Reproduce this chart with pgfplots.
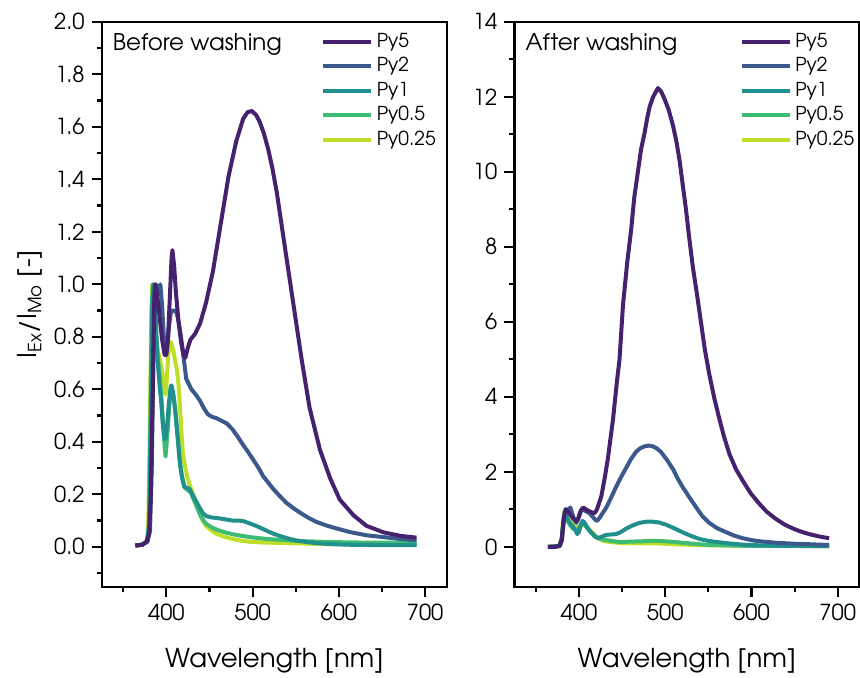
\documentclass[border=0pt]{standalone}
\usepackage{fontspec}
\setmainfont{TeX Gyre Adventor}
\usepackage{pgfplots}
\pgfplotsset{compat=1.18}
\definecolor{cA}{HTML}{46226E}
\definecolor{cB}{HTML}{3B5A8B}
\definecolor{cC}{HTML}{21908D}
\definecolor{cD}{HTML}{3FBC73}
\definecolor{cE}{HTML}{BDDF26}
\pgfplotsset{
  myaxis/.style={
    width=172.5pt, height=282.65pt, scale only axis,
    anchor=south west,
    xmin=325, xmax=725,
    xtick={400,500,600,700}, minor xtick={350,450,550,650},
    tick align=outside, xtick pos=left, ytick pos=left,
    major tick length=5pt, minor tick length=2.5pt,
    every tick/.style={black, line width=1.1pt},
    axis line style={line width=1.2pt},
    tick label style={font=\fontsize{11}{13}\selectfont},
    label style={font=\fontsize{13}{15}\selectfont},
    xlabel={Wavelength [nm]},
    xlabel style={at={(axis description cs:0.5,-0.143)}, anchor=base},
    /pgf/number format/assume math mode=true,
    legend style={draw=none, fill=none, font=\fontsize{9.6}{11}\selectfont,
      anchor=north west, inner sep=0pt, row sep=0pt,
      nodes={inner sep=1.8pt}},
    legend cell align=left,
    reverse legend,
    legend image code/.code={\draw[##1] (0pt,0pt) -- (24pt,0pt);},
    every axis plot/.append style={line width=2pt, line join=round},
  }
}
\begin{document}
\begin{tikzpicture}
\useasboundingbox (0,0) rectangle (430pt,338.5pt);
% ---------------- Left panel ----------------
\begin{axis}[myaxis, at={(50.85pt,45pt)},
  ymin=-0.153, ymax=2.0,
  ytick={0,0.2,0.4,0.6,0.8,1.0,1.2,1.4,1.6,1.8,2.0},
  minor ytick={-0.1,0.1,0.3,0.5,0.7,0.9,1.1,1.3,1.5,1.7,1.9},
  yticklabel style={/pgf/number format/.cd, fixed, fixed zerofill, precision=1},
  ylabel={I\textsubscript{Ex}/I\textsubscript{Mo} [-]},
  ylabel style={at={(axis description cs:-0.209,0.5)}, anchor=center},
  legend style={at={(axis description cs:0.635,0.987)}},
]
\addplot[cE] coordinates {
(364,0.005)(372,0.008)(377,0.02)(379,0.08)(381,0.5)(382.5,0.9)(383.7,1.0)(385,0.93)(387.6,0.81)(390,0.75)(392,0.72)(394,0.69)(396,0.65)(398,0.6)(399,0.58)(400.5,0.64)(402,0.72)(403.5,0.77)(405,0.78)(407,0.76)(408.5,0.74)(410,0.71)(412,0.68)(414,0.62)(415.5,0.55)(417,0.46)(419,0.36)(421.5,0.31)(424,0.27)(427,0.235)(431,0.2)(435,0.165)(439,0.13)(442,0.1)(446,0.08)(452,0.063)(458,0.05)(467,0.038)(477,0.03)(487,0.023)(497,0.019)(516,0.016)(536,0.015)(565,0.012)(594,0.01)(640,0.01)(690,0.01)};
\addlegendentry{Py0.25}
\addplot[cD] coordinates {
(364,0.005)(372,0.008)(378,0.02)(380,0.1)(382,0.6)(383.5,0.95)(384.5,1.0)(386,0.9)(388,0.8)(390,0.72)(391.5,0.68)(394,0.58)(396,0.476)(398,0.38)(399,0.344)(401,0.42)(403,0.52)(405,0.6)(406,0.61)(408,0.58)(410,0.53)(413,0.43)(415.5,0.33)(418,0.27)(421,0.227)(425,0.215)(428,0.21)(431,0.185)(435,0.154)(440,0.115)(446,0.088)(452,0.075)(458,0.066)(467,0.056)(477,0.048)(487,0.042)(497,0.037)(516,0.03)(535,0.026)(555,0.022)(594,0.018)(632,0.016)(690,0.016)};
\addlegendentry{Py0.5}
\addplot[cC] coordinates {
(364,0.005)(372,0.008)(378,0.02)(380,0.08)(382,0.5)(383.5,0.9)(385,1.0)(386.5,0.97)(388,0.84)(390,0.70)(392,0.62)(394,0.55)(396,0.46)(398,0.41)(399,0.41)(401,0.47)(403,0.55)(405,0.61)(406,0.615)(408,0.58)(410,0.53)(412,0.45)(413.5,0.40)(415,0.34)(417,0.285)(419,0.25)(421,0.227)(424,0.225)(427,0.22)(430,0.2)(433,0.183)(436,0.164)(439,0.146)(442,0.13)(446,0.117)(452,0.112)(458,0.11)(468,0.105)(477,0.10)(484,0.1)(489,0.098)(496,0.09)(504,0.08)(514,0.065)(524,0.05)(533,0.04)(543,0.03)(553,0.023)(563,0.018)(578,0.013)(593,0.01)(612,0.008)(632,0.007)(660,0.007)(690,0.007)};
\addlegendentry{Py1}
\addplot[cB] coordinates {
(364,0.005)(372,0.008)(378,0.02)(381,0.06)(383,0.3)(385,0.75)(387,0.97)(388,1.0)(390,0.96)(392,0.98)(393,1.0)(395,0.92)(397,0.8)(399,0.74)(401,0.76)(403,0.84)(405,0.89)(407,0.9)(410,0.9)(412,0.89)(414,0.86)(417,0.8)(420,0.72)(423,0.64)(426,0.62)(429,0.6)(434,0.58)(439,0.556)(444,0.525)(448,0.505)(453,0.495)(458,0.49)(464,0.48)(470,0.47)(477,0.446)(483,0.418)(489,0.388)(495,0.36)(501,0.33)(507,0.30)(512,0.27)(518,0.245)(524,0.22)(531,0.195)(539,0.168)(547,0.148)(555,0.13)(565,0.11)(574,0.095)(584,0.083)(594,0.073)(613,0.056)(632,0.044)(652,0.037)(671,0.03)(690,0.025)};
\addlegendentry{Py2}
\addplot[cA] coordinates {
(364,0.005)(372,0.008)(377,0.02)(380,0.05)(382,0.2)(384,0.55)(386,0.95)(387,1.0)(389,0.97)(392,0.88)(395,0.79)(398,0.73)(400,0.73)(402,0.8)(404,0.95)(406,1.1)(407,1.13)(409,1.07)(411,0.97)(414,0.86)(417,0.78)(420,0.73)(422,0.72)(425,0.76)(428,0.79)(433,0.81)(439,0.85)(446,0.93)(454,1.05)(462,1.21)(472,1.41)(481,1.545)(489,1.63)(494,1.655)(499,1.66)(504,1.645)(508,1.62)(513,1.575)(518,1.515)(523,1.44)(528,1.35)(537,1.15)(547,0.93)(557,0.71)(566,0.53)(578,0.37)(590,0.26)(601,0.18)(617,0.12)(632,0.08)(652,0.055)(671,0.042)(690,0.035)};
\addlegendentry{Py5}
\node[anchor=west, font=\fontsize{11.5}{13}\selectfont] at (axis description cs:0.012,0.959) {Before washing};
\end{axis}
% ---------------- Right panel ----------------
\begin{axis}[myaxis, at={(257.15pt,45pt)},
  ymin=-1.07, ymax=14,
  ytick={0,2,4,6,8,10,12,14},
  minor ytick={1,3,5,7,9,11,13},
  legend style={at={(axis description cs:0.652,0.987)}},
]
\addplot[cE] coordinates {
(364,0)(377,0.02)(380,0.25)(382,0.8)(383.5,0.95)(385,0.88)(387,0.74)(391,0.66)(395,0.6)(399,0.49)(402,0.55)(406.6,0.6)(410,0.52)(414,0.42)(418,0.32)(422,0.23)(428,0.16)(435.5,0.13)(445,0.11)(455,0.1)(475,0.095)(493,0.09)(512,0.07)(532,0.05)(560,0.04)(590,0.03)(640,0.025)(690,0.02)};
\addlegendentry{Py0.25}
\addplot[cD] coordinates {
(364,0)(377,0.02)(380,0.2)(382,0.7)(384,1.0)(385.5,0.85)(387,0.69)(390,0.57)(393,0.49)(397,0.44)(400,0.5)(404,0.64)(406,0.6)(410,0.49)(414,0.38)(418,0.28)(424,0.22)(431.7,0.18)(440,0.15)(447,0.13)(460,0.14)(474,0.15)(485,0.16)(493,0.16)(505,0.14)(520,0.11)(535,0.08)(551,0.05)(570,0.04)(590,0.03)(640,0.025)(690,0.02)};
\addlegendentry{Py0.5}
\addplot[cC] coordinates {
(364,0)(377,0.02)(380,0.2)(382,0.7)(384,1.0)(385.5,0.9)(387,0.74)(390,0.62)(393,0.54)(396,0.44)(398,0.34)(400,0.4)(402,0.58)(404,0.69)(406,0.66)(409,0.54)(412,0.44)(416,0.34)(419,0.28)(422,0.23)(426,0.27)(431.7,0.32)(437,0.33)(443,0.34)(449,0.4)(455,0.49)(462,0.57)(470,0.64)(478,0.67)(485.7,0.67)(493,0.65)(501,0.59)(510,0.5)(520,0.39)(530,0.29)(540,0.21)(550,0.16)(559,0.13)(575,0.09)(590,0.06)(610,0.04)(628.6,0.03)(660,0.025)(690,0.02)};
\addlegendentry{Py1}
\addplot[cB] coordinates {
(364,0)(377.6,0.02)(380,0.15)(381.5,0.5)(383,0.85)(385,1.0)(387,0.98)(390,1.05)(392,0.9)(394,0.76)(397,0.64)(400,0.8)(402,0.95)(404,1.0)(408,0.95)(412,0.9)(416,0.8)(419,0.72)(421,0.69)(424,0.78)(428,0.92)(431.7,1.05)(437,1.3)(443,1.6)(449,1.87)(455,2.12)(460,2.33)(466,2.53)(471,2.63)(476,2.68)(481,2.7)(485.7,2.68)(490,2.63)(495,2.53)(502,2.32)(509,2.07)(514,1.84)(520,1.6)(528,1.32)(536,1.05)(543,0.82)(551,0.64)(560,0.5)(570.7,0.39)(580,0.3)(590,0.23)(600,0.18)(609,0.15)(628.6,0.11)(648,0.085)(667,0.07)(690,0.05)};
\addlegendentry{Py2}
\addplot[cA] coordinates {
(364,0)(372,0.0)(377.6,0.03)(380,0.2)(381.5,0.54)(383,0.85)(385,1.0)(387,0.96)(389,0.9)(393,0.76)(397,0.69)(399,0.75)(401,0.9)(403,1.0)(405,1.05)(408,1.0)(412,0.95)(415,0.92)(418,0.9)(420.5,0.98)(423,1.15)(425.9,1.35)(430,1.86)(433.6,2.37)(436,2.8)(439.4,3.39)(444,4.41)(447,5.0)(451,6.45)(456,7.6)(460.6,8.48)(464,9.3)(468.3,10.0)(472,10.6)(476,11.03)(479,11.42)(482,11.74)(486,12.0)(491.5,12.23)(495,12.15)(499,11.95)(504,11.65)(509,11.23)(513,10.8)(516.6,10.3)(520,9.7)(524,9.0)(528,8.2)(532,7.46)(537,6.7)(541.7,5.94)(546,5.25)(551,4.61)(557,3.95)(563,3.39)(568,2.95)(574.5,2.47)(582,2.07)(590,1.76)(599,1.43)(609,1.15)(618,0.93)(628.6,0.74)(638,0.6)(648,0.49)(657,0.41)(667,0.34)(678,0.28)(690,0.23)};
\addlegendentry{Py5}
\node[anchor=west, font=\fontsize{11.5}{13}\selectfont] at (axis description cs:0.012,0.959) {After washing};
\end{axis}
\end{tikzpicture}
\end{document}
